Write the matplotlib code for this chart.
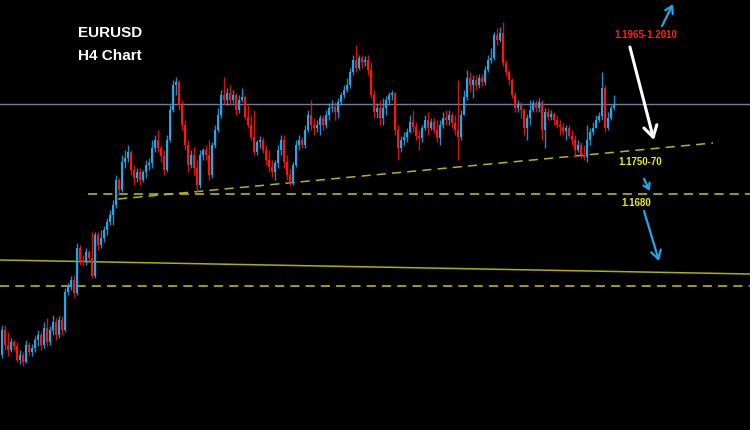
import numpy as np
import matplotlib.pyplot as plt

# EURUSD H4 candles, opens = previous close
first_open = 1.14385
closes = [
    1.14760, 1.14535, 1.14460, 1.14580, 1.14520, 1.14310, 1.14385, 1.14280, 1.14535, 1.14430,
    1.14490, 1.14610, 1.14685, 1.14535, 1.14790, 1.14580, 1.14760, 1.14880, 1.14685, 1.14910,
    1.14760, 1.15330, 1.15405, 1.15510, 1.15315, 1.15990, 1.15810, 1.15780, 1.15930, 1.15840,
    1.15570, 1.16185, 1.16035, 1.16140, 1.16260, 1.16380, 1.16485,
    1.16635, 1.17010, 1.16860, 1.17280, 1.17340, 1.17430, 1.17160, 1.17040, 1.17130, 1.17010,
    1.17130, 1.17235, 1.17265, 1.17490, 1.17610, 1.17490, 1.17370, 1.17160, 1.17610, 1.18060,
    1.18435, 1.18480, 1.18135, 1.17835, 1.17535, 1.17235, 1.17385, 1.17190, 1.16935, 1.17385,
    1.17460, 1.17385, 1.17085, 1.17535, 1.17760, 1.17985, 1.18285, 1.18210, 1.18315, 1.18210,
    1.18285, 1.18060, 1.18210, 1.18255, 1.17955, 1.17835, 1.17655, 1.17430, 1.17580, 1.17610,
    1.17460, 1.17310, 1.17205, 1.17130, 1.17265, 1.17460, 1.17610, 1.17280, 1.17085, 1.16965,
    1.17235, 1.17535, 1.17610, 1.17535, 1.17760, 1.17985, 1.17835, 1.17790, 1.17835, 1.17940,
    1.17835, 1.17985, 1.18090, 1.18105, 1.18030, 1.18180, 1.18285, 1.18360, 1.18435, 1.18630,
    1.18810, 1.18690, 1.18840, 1.18780, 1.18810, 1.18660, 1.18285, 1.18030, 1.18090, 1.17940,
    1.18090, 1.18210, 1.18285, 1.18315, 1.17760, 1.17490, 1.17610, 1.17655, 1.17730, 1.17880,
    1.17805, 1.17670, 1.17640, 1.17790, 1.17910, 1.17790, 1.17880, 1.17760, 1.17640, 1.17835,
    1.17940, 1.17910, 1.17985, 1.17865, 1.17760, 1.17655, 1.17985, 1.18255, 1.18540, 1.18435,
    1.18510, 1.18435, 1.18540, 1.18480, 1.18660, 1.18810, 1.18840, 1.19185, 1.19110, 1.19215,
    1.18765, 1.18630, 1.18510, 1.18285, 1.18090, 1.18135, 1.18060, 1.17790, 1.17940, 1.18060,
    1.18165, 1.18090, 1.18180, 1.17760, 1.18030, 1.17955, 1.18000, 1.17910, 1.17835, 1.17805,
    1.17745, 1.17790, 1.17670, 1.17610, 1.17460, 1.17535, 1.17385, 1.17355, 1.17610, 1.17730,
    1.17790, 1.17910, 1.17970, 1.18390, 1.17790, 1.17940, 1.18090, 1.18135,
]
highs = [
    1.14835, 1.14835, 1.14730, 1.14640, 1.14610, 1.14580, 1.14460, 1.14430, 1.14610, 1.14580,
    1.14550, 1.14670, 1.14760, 1.14730, 1.14880, 1.14940, 1.14820, 1.14985, 1.14940, 1.14970,
    1.14970, 1.15390, 1.15465, 1.15570, 1.15585, 1.16065, 1.16035, 1.15885, 1.15990, 1.15960,
    1.16230, 1.16230, 1.16230, 1.16260, 1.16320, 1.16440, 1.16560,
    1.16710, 1.17085, 1.17040, 1.17385, 1.17460, 1.17535, 1.17460, 1.17235, 1.17190, 1.17190,
    1.17160, 1.17310, 1.17340, 1.17610, 1.17685, 1.17760, 1.17535, 1.17460, 1.17685, 1.18135,
    1.18510, 1.18555, 1.18510, 1.18210, 1.17910, 1.17610, 1.17460, 1.17505, 1.17310, 1.17460,
    1.17490, 1.17535, 1.17610, 1.17580, 1.17835, 1.18090, 1.18360, 1.18555, 1.18390, 1.18435,
    1.18360, 1.18315, 1.18285, 1.18390, 1.18285, 1.18135, 1.17985, 1.18060, 1.17610, 1.17670,
    1.17655, 1.17535, 1.17460, 1.17310, 1.17310, 1.17535, 1.17685, 1.17685, 1.17385, 1.17190,
    1.17280, 1.17610, 1.17685, 1.17655, 1.17835, 1.18060, 1.18210, 1.17940, 1.17910, 1.17985,
    1.17985, 1.18060, 1.18165, 1.18210, 1.18180, 1.18240, 1.18330, 1.18435, 1.18540, 1.18690,
    1.18885, 1.19035, 1.18885, 1.18885, 1.18870, 1.18885, 1.18780, 1.18360, 1.18165, 1.18210,
    1.18240, 1.18270, 1.18330, 1.18360, 1.18330, 1.17835, 1.17670, 1.17730, 1.17790, 1.17985,
    1.18060, 1.17880, 1.17760, 1.17835, 1.17985, 1.18030, 1.17940, 1.17940, 1.17910, 1.17910,
    1.18030, 1.18060, 1.18060, 1.18030, 1.17985, 1.18510, 1.18060, 1.18360, 1.18660, 1.18630,
    1.18585, 1.18585, 1.18600, 1.18600, 1.18720, 1.18885, 1.18990, 1.19230, 1.19290, 1.19305,
    1.19380, 1.18810, 1.18660, 1.18540, 1.18330, 1.18210, 1.18180, 1.18090, 1.18000, 1.18210,
    1.18210, 1.18210, 1.18240, 1.18210, 1.18090, 1.18090, 1.18060, 1.18030, 1.17985, 1.17910,
    1.17865, 1.17835, 1.17835, 1.17760, 1.17685, 1.17610, 1.17580, 1.17535, 1.17835, 1.17790,
    1.17880, 1.17985, 1.18030, 1.18630, 1.18435, 1.18030, 1.18135, 1.18285,
]
lows = [
    1.14340, 1.14460, 1.14370, 1.14430, 1.14460, 1.14280, 1.14250, 1.14220, 1.14265, 1.14370,
    1.14370, 1.14430, 1.14520, 1.14460, 1.14490, 1.14520, 1.14535, 1.14685, 1.14610, 1.14640,
    1.14685, 1.14730, 1.15285, 1.15360, 1.15255, 1.15285, 1.15735, 1.15720, 1.15735, 1.15780,
    1.15540, 1.15540, 1.15960, 1.15990, 1.16080, 1.16185, 1.16335,
    1.16335, 1.16590, 1.16785, 1.16830, 1.17190, 1.17280, 1.17085, 1.16935, 1.16980, 1.16935,
    1.16980, 1.17040, 1.17160, 1.17190, 1.17430, 1.17430, 1.17280, 1.17085, 1.17130, 1.17580,
    1.18030, 1.18285, 1.18060, 1.17760, 1.17460, 1.17130, 1.17190, 1.17085, 1.16830, 1.16890,
    1.17310, 1.17310, 1.17010, 1.17040, 1.17490, 1.17730, 1.17940, 1.18150, 1.18135, 1.18150,
    1.18165, 1.17985, 1.18015, 1.18180, 1.17910, 1.17790, 1.17610, 1.17385, 1.17385, 1.17490,
    1.17415, 1.17235, 1.17130, 1.17055, 1.17010, 1.17190, 1.17385, 1.17190, 1.17010, 1.16935,
    1.16935, 1.17205, 1.17460, 1.17490, 1.17490, 1.17730, 1.17760, 1.17685, 1.17730, 1.17685,
    1.17760, 1.17790, 1.17910, 1.18030, 1.17910, 1.17940, 1.18135, 1.18240, 1.18330, 1.18390,
    1.18585, 1.18630, 1.18660, 1.18690, 1.18720, 1.18585, 1.18240, 1.17940, 1.17940, 1.17835,
    1.17835, 1.17985, 1.18135, 1.18210, 1.17685, 1.17310, 1.17430, 1.17535, 1.17580, 1.17715,
    1.17730, 1.17610, 1.17460, 1.17580, 1.17760, 1.17685, 1.17760, 1.17715, 1.17580, 1.17535,
    1.17790, 1.17835, 1.17835, 1.17790, 1.17685, 1.17310, 1.17610, 1.17985, 1.18210, 1.18330,
    1.18240, 1.18360, 1.18390, 1.18420, 1.18435, 1.18630, 1.18765, 1.18810, 1.19035, 1.19080,
    1.18720, 1.18570, 1.18435, 1.18240, 1.18030, 1.18030, 1.17940, 1.17685, 1.17610, 1.17835,
    1.18030, 1.18030, 1.18030, 1.17610, 1.17490, 1.17910, 1.17910, 1.17835, 1.17790, 1.17685,
    1.17685, 1.17610, 1.17640, 1.17535, 1.17355, 1.17430, 1.17340, 1.17310, 1.17280, 1.17535,
    1.17685, 1.17790, 1.17880, 1.17910, 1.17730, 1.17760, 1.17910, 1.18060,
]

# drawn levels
gray_level = 1.18150
support_1680 = 1.1680
lower_dashed = 1.1542
trend_start = (38.7, 1.16725)   # rising dashed trend line (bar index, price)
trend_end = (237.0, 1.17565)
falling_start = (-0.7, 1.1581)  # long solid yellow line
falling_end = (249.3, 1.1560)

closes = np.array(closes)
opens = np.concatenate([[first_open], closes[:-1]])
highs = np.maximum(np.array(highs), np.maximum(opens, closes))
lows = np.minimum(np.array(lows), np.minimum(opens, closes))
idx = np.arange(len(closes))
up = closes >= opens

blue = "#1fa8ea"
red = "#ff1414"
yel = "#c8c814"

fig = plt.figure(figsize=(7.5, 4.3), dpi=100, facecolor="black")
ax = fig.add_axes([0, 0, 1, 1])
ax.set_facecolor("black")
ax.set_xlim(-0.667, 249.333)
ax.set_ylim(1.13260, 1.19710)
ax.axis("off")

# reference lines behind the candles
ax.axhline(gray_level, color="#6d8196", lw=1.0, zorder=1)
ax.hlines(support_1680, 28.7, 249.3, colors=yel, lw=1.1, linestyles=(0, (6, 4)), zorder=1)
ax.axhline(lower_dashed, color=yel, lw=1.1, ls=(0, (6, 4)), zorder=1)
ax.plot([trend_start[0], trend_end[0]], [trend_start[1], trend_end[1]],
        color="#b4b41e", lw=1.1, ls=(0, (6, 4)), zorder=1)
ax.plot([falling_start[0], falling_end[0]], [falling_start[1], falling_end[1]],
        color="#b0b000", lw=1.1, zorder=1)

# candles
cols = np.where(up, blue, red)
ax.vlines(idx, lows, highs, colors=cols, lw=1.0, alpha=0.85, zorder=2)
body_lo = np.minimum(opens, closes)
body_h = np.maximum(np.abs(closes - opens), 0.00006)
ax.bar(idx, body_h, bottom=body_lo, width=0.95, color=cols, linewidth=0, zorder=3)

# titles
ax.text(36, 1.19215, "EURUSD", color="white", fontsize=11, fontweight="bold",
        family="Liberation Sans", ha="center", va="center")
ax.text(36, 1.18870, "H4 Chart", color="white", fontsize=11, fontweight="bold",
        family="Liberation Sans", ha="center", va="center")

# level labels
ax.text(214.7, 1.19185, "1.1965-1.2010", color="#ff2020", fontsize=7, fontweight="bold",
        family="Liberation Sans", ha="center", va="center")
ax.text(212.7, 1.17280, "1.1750-70", color="#f0f000", fontsize=7, fontweight="bold",
        family="Liberation Sans", ha="center", va="center")
ax.text(211.5, 1.16665, "1.1680", color="#f0f000", fontsize=7, fontweight="bold",
        family="Liberation Sans", ha="center", va="center")

# arrows
def arrow(x0, p0, x1, p1, color, lw, head):
    ax.annotate("", xy=(x1, p1), xytext=(x0, p0),
                arrowprops=dict(arrowstyle=f"->,head_length={head},head_width={head*0.6}",
                                color=color, lw=lw, shrinkA=0, shrinkB=0), zorder=5)

arrow(220.0, 1.19320, 223.7, 1.19650, blue, 1.6, 0.5)
arrow(209.3, 1.19005, 217.3, 1.17610, "white", 2.2, 0.8)
arrow(214.0, 1.17025, 216.0, 1.16845, blue, 1.6, 0.4)
arrow(214.0, 1.16545, 219.0, 1.15795, blue, 1.6, 0.6)

fig.savefig("out.png", dpi=100, facecolor="black")
